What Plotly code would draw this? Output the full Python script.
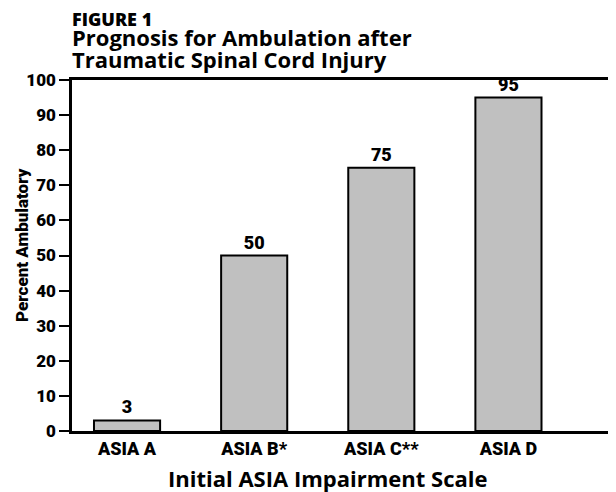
import plotly.graph_objects as go

categories = ["ASIA A", "ASIA B*", "ASIA C**", "ASIA D"]
percent_ambulatory = [3, 50, 75, 95]
y_ticks = [0, 10, 20, 30, 40, 50, 60, 70, 80, 90, 100]
x_positions = [0, 1, 2, 3]
boundaries = [0.5, 1.5, 2.5]

narrow = "Roboto"
wide = "Open Sans"

fig = go.Figure()
fig.add_trace(go.Bar(
    x=x_positions, y=percent_ambulatory, width=0.52,
    marker=dict(color="#c0c0c0", line=dict(color="black", width=2)),
    text=[str(v) for v in percent_ambulatory], textposition="outside",
    textfont=dict(family=narrow, size=18, color="black", weight=900),
    cliponaxis=False, showlegend=False,
))

xr = [-0.433, 3.846]
yr = [0, 100]
fig.update_layout(
    width=608, height=484,
    margin=dict(l=64, r=0, t=72, b=61),
    plot_bgcolor="white", paper_bgcolor="white",
    xaxis=dict(range=xr, tickvals=x_positions, ticktext=categories, ticks="",
               showline=True, linecolor="black", linewidth=2.5, mirror=True,
               showgrid=False, zeroline=False,
               tickfont=dict(family=narrow, size=18, color="black", weight=900)),
    xaxis2=dict(range=xr, overlaying="x", anchor="y", side="bottom", tickvals=boundaries,
                ticks="outside", ticklen=7, tickwidth=2, tickcolor="black",
                showticklabels=False, showgrid=False, zeroline=False, showline=False),
    xaxis3=dict(range=xr, overlaying="x", anchor="y", side="bottom", tickvals=boundaries,
                ticks="inside", ticklen=5, tickwidth=2, tickcolor="black",
                showticklabels=False, showgrid=False, zeroline=False, showline=False),
    yaxis=dict(range=yr, tickvals=y_ticks, ticks="outside", ticklen=10, tickwidth=2,
               tickcolor="black", showline=True, linecolor="black", linewidth=2.5,
               showgrid=False, zeroline=False,
               tickfont=dict(family=narrow, size=17, color="black", weight=900)),
    yaxis2=dict(range=yr, overlaying="y", anchor="x", side="left", tickvals=y_ticks,
                ticks="inside", ticklen=10, tickwidth=2, tickcolor="black",
                showticklabels=False, showgrid=False, zeroline=False, showline=False),
    annotations=[
        dict(text="FIGURE 1", xref="paper", yref="paper", x=0, y=1, xanchor="left",
             yanchor="bottom", yshift=47, xshift=-2, showarrow=False,
             font=dict(family=wide, size=18, color="black", weight=800)),
        dict(text="Prognosis for Ambulation after",
             xref="paper", yref="paper", x=0, y=1, xanchor="left", yanchor="bottom",
             yshift=26, xshift=-2, showarrow=False,
             font=dict(family=wide, size=22, color="black", weight="bold")),
        dict(text="Traumatic Spinal Cord Injury",
             xref="paper", yref="paper", x=0, y=1, xanchor="left", yanchor="bottom",
             yshift=4, xshift=-2, showarrow=False,
             font=dict(family=wide, size=22, color="black", weight="bold")),
        dict(text="Percent Ambulatory",
             xref="paper", yref="paper", x=0, y=0.53, xanchor="center", yanchor="middle",
             xshift=-50, textangle=-90, showarrow=False,
             font=dict(family=narrow, size=17, color="black", weight=900)),
        dict(text="Initial ASIA Impairment Scale",
             xref="paper", yref="paper", x=0.47, y=0, xanchor="center", yanchor="top",
             yshift=-30, showarrow=False,
             font=dict(family=wide, size=22, color="black", weight="bold")),
    ],
)

fig.write_html("out.html")
